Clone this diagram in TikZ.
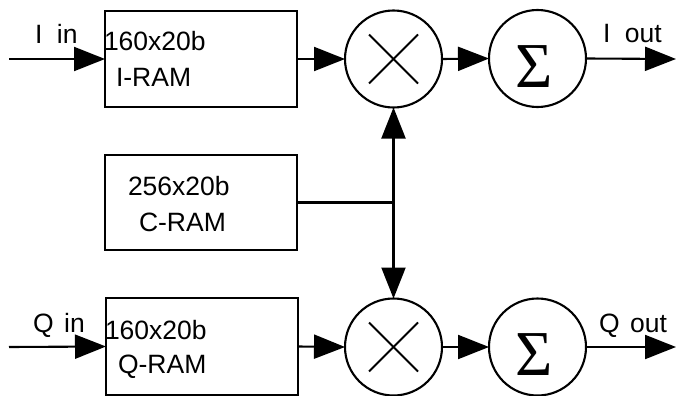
\documentclass[tikz,border=0pt]{standalone}
\usepackage{fontspec}
\setmainfont{Liberation Sans}
\newfontfamily\sigmafont{Liberation Serif}
\usetikzlibrary{arrows.meta}
\begin{document}
\begin{tikzpicture}[x=1pt,y=-1pt,
  line width=2.1pt,
  every node/.style={inner sep=0pt,outer sep=0pt},
  ram/.style={draw,rectangle,minimum width=192pt,minimum height=96pt},
  opcirc/.style={draw,circle,minimum size=97pt},
  lbl/.style={anchor=base west,font=\fontsize{26.5}{30}\selectfont},
  sig/.style={anchor=base,font=\sigmafont\fontsize{64}{70}\selectfont},
  arr/.style={-{Triangle[length=31pt,width=24pt]}}]
\useasboundingbox (0,0) rectangle (677,396);
% boxes
\node[ram] (iram) at (201,59) {};
\node[ram,minimum height=95pt] (cram) at (201,202.5) {};
\node[ram,minimum height=97pt] (qram) at (202,346.5) {};
% circles
\node[opcirc] (imul) at (393.5,59) {};
\node[opcirc] (isum) at (537.5,58.5) {};
\node[opcirc] (qmul) at (393.5,347) {};
\node[opcirc] (qsum) at (537.5,347) {};
% multiplier crosses
\draw[line width=1.8pt] (imul.center) ++(-24.5,-24.5) -- ++(49,49);
\draw[line width=1.8pt] (imul.center) ++(-24.5,24.5) -- ++(49,-49);
\draw[line width=1.8pt] (qmul.center) ++(-24.5,-24.5) -- ++(49,49);
\draw[line width=1.8pt] (qmul.center) ++(-24.5,24.5) -- ++(49,-49);
% sigma
\node[sig] (isig) at (534,87) {Σ};
\node[sig] (qsig) at (534,375.5) {Σ};
% texts
\node[lbl] (tiin) at (35,44) {I\hspace{0.55em}in};
\node[lbl] (tiram1) at (104,51) {160x20b};
\node[lbl] (tiram2) at (116,86) {I-RAM};
\node[lbl] (tiout) at (603,43) {I\hspace{0.55em}out};
\node[lbl] (tcram1) at (128,195) {256x20b};
\node[lbl] (tcram2) at (139,231) {C-RAM};
\node[lbl] (tqin) at (33,332) {Q\hspace{0.4em}in};
\node[lbl] (tqram1) at (105,339) {160x20b};
\node[lbl] (tqram2) at (118,373) {Q-RAM};
\node[lbl] (tqout) at (599,332) {Q\hspace{0.4em}out};
% coordinates
\coordinate (iin) at (9,59);
\coordinate (iout) at (676,59);
\coordinate (qin) at (9,347);
\coordinate (qout) at (676,347);
\coordinate (junc) at (393.5,202.5);
% connectors
\draw[arr] (iin) -- (iram.west);
\draw[arr] (iram.east) -- (imul.west);
\draw[arr] (imul.east) -- (isum.west);
\draw[arr] (isum.east) -- (iout);
\draw[arr] (qin) -- (qram.west);
\draw[arr] (qram.east) -- (qmul.west);
\draw[arr] (qmul.east) -- (qsum.west);
\draw[arr] (qsum.east) -- (qout);
\draw (cram.east) -- (junc);
\draw[arr] (junc) -- (imul.south);
\draw[arr] (junc) -- (qmul.north);
\end{tikzpicture}
\end{document}
